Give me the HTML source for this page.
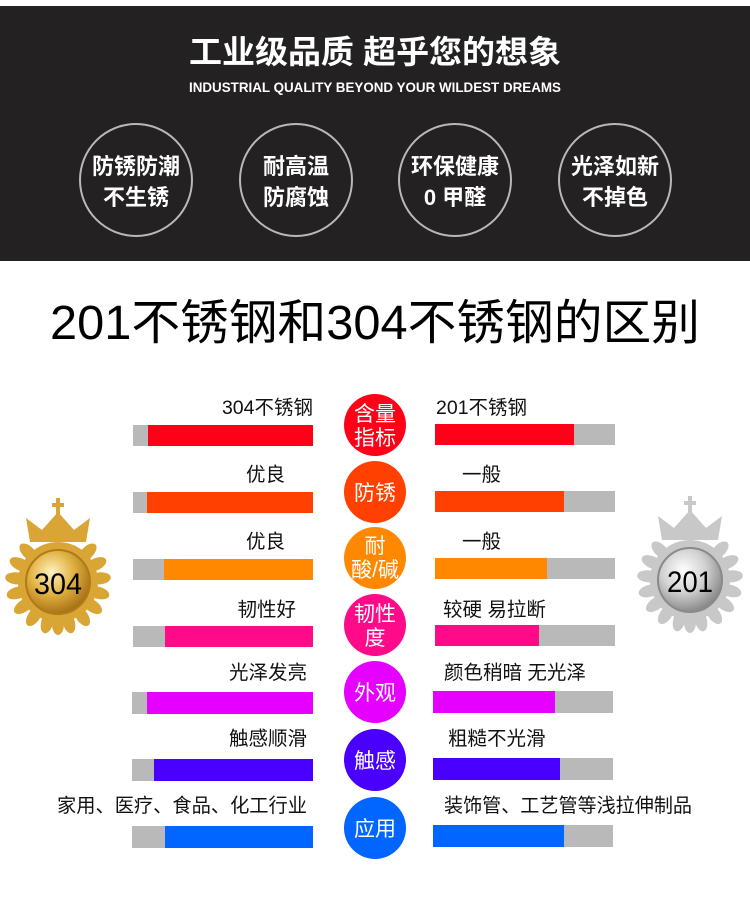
<!DOCTYPE html>
<html><head><meta charset="utf-8"><style>
html,body{margin:0;padding:0;background:#fff;}
svg{display:block;}
text{font-family:"Liberation Sans","Noto Sans CJK SC",sans-serif;}
</style></head><body>
<svg width="750" height="908" viewBox="0 0 750 908" xmlns="http://www.w3.org/2000/svg">
<defs>
<radialGradient id="gold" cx="40%" cy="35%" r="70%"><stop offset="0" stop-color="#fff3c0"/><stop offset="0.5" stop-color="#e0b040"/><stop offset="1" stop-color="#a06a10"/></radialGradient>
<radialGradient id="silver" cx="40%" cy="35%" r="70%"><stop offset="0" stop-color="#ffffff"/><stop offset="0.5" stop-color="#d0d0d0"/><stop offset="1" stop-color="#808080"/></radialGradient>
<g id="laurel">
 <g>
 <ellipse cx="0" cy="-42" rx="6" ry="11" transform="rotate(-45)"/><ellipse cx="0" cy="-42" rx="6" ry="11" transform="rotate(-65)"/><ellipse cx="0" cy="-42" rx="6" ry="11" transform="rotate(-85)"/><ellipse cx="0" cy="-42" rx="6" ry="11" transform="rotate(-105)"/><ellipse cx="0" cy="-42" rx="6" ry="11" transform="rotate(-125)"/><ellipse cx="0" cy="-42" rx="6" ry="11" transform="rotate(-145)"/><ellipse cx="0" cy="-42" rx="6" ry="11" transform="rotate(-165)"/>
 <ellipse cx="0" cy="-42" rx="6" ry="11" transform="rotate(45)"/><ellipse cx="0" cy="-42" rx="6" ry="11" transform="rotate(65)"/><ellipse cx="0" cy="-42" rx="6" ry="11" transform="rotate(85)"/><ellipse cx="0" cy="-42" rx="6" ry="11" transform="rotate(105)"/><ellipse cx="0" cy="-42" rx="6" ry="11" transform="rotate(125)"/><ellipse cx="0" cy="-42" rx="6" ry="11" transform="rotate(145)"/><ellipse cx="0" cy="-42" rx="6" ry="11" transform="rotate(165)"/><ellipse cx="0" cy="-42" rx="6" ry="11" transform="rotate(180)"/>
 </g>
 <circle r="40"/>
 <path d="M-28,-40 L-32,-64 L-16,-52 L0,-70 L16,-52 L32,-64 L28,-40 Z"/>
 <rect x="-2" y="-84" width="4" height="16"/><rect x="-6" y="-79" width="12" height="4"/>
</g>
</defs>
<rect x="0" y="6" width="750" height="255" fill="#232122"/>
<text x="375" y="63" text-anchor="middle" font-size="32" font-weight="bold" fill="#fff" textLength="372" lengthAdjust="spacingAndGlyphs">工业级品质 超乎您的想象</text>
<text x="375" y="92" text-anchor="middle" font-size="14" font-weight="bold" fill="#fff" textLength="372" lengthAdjust="spacingAndGlyphs">INDUSTRIAL QUALITY BEYOND YOUR WILDEST DREAMS</text>
<g fill="none" stroke="#b8b8b8" stroke-width="2">
<circle cx="136" cy="180" r="56"/><circle cx="296" cy="180" r="56"/><circle cx="455" cy="180" r="56"/><circle cx="615" cy="180" r="56"/>
</g>
<g font-size="22" font-weight="bold" fill="#fff" text-anchor="middle">
<text x="136" y="174">防锈防潮</text><text x="136" y="205">不生锈</text>
<text x="296" y="174">耐高温</text><text x="296" y="205">防腐蚀</text>
<text x="455" y="174">环保健康</text><text x="455" y="205">0 甲醛</text>
<text x="615" y="174">光泽如新</text><text x="615" y="205">不掉色</text>
</g>
<text x="375" y="339" text-anchor="middle" font-size="48" fill="#000" textLength="650" lengthAdjust="spacingAndGlyphs">201不锈钢和304不锈钢的区别</text>

<!-- medals -->
<g transform="translate(58,582)" fill="#d9a636"><use href="#laurel"/></g>
<circle cx="58" cy="582" r="32" fill="url(#gold)" stroke="#b07a18" stroke-width="2"/>
<text x="58" y="594" text-anchor="middle" font-size="30" fill="#000" textLength="48" lengthAdjust="spacingAndGlyphs">304</text>
<g transform="translate(690,580)" fill="#c8c8c8"><use href="#laurel"/></g>
<circle cx="690" cy="580" r="32" fill="url(#silver)" stroke="#8a8a8a" stroke-width="2"/>
<text x="690" y="592" text-anchor="middle" font-size="30" fill="#000" textLength="46" lengthAdjust="spacingAndGlyphs">201</text>

<!-- rows -->
<g fill="#b9b9b9">
<rect x="133" y="425" width="180" height="21"/><rect x="435" y="424" width="180" height="21"/>
<rect x="133" y="492" width="180" height="21"/><rect x="435" y="491" width="180" height="21"/>
<rect x="133" y="559" width="180" height="21"/><rect x="435" y="558" width="180" height="21"/>
<rect x="133" y="626" width="180" height="21"/><rect x="435" y="625" width="180" height="21"/>
<rect x="132" y="692" width="181" height="22"/><rect x="433" y="691" width="180" height="22"/>
<rect x="132" y="759" width="181" height="22"/><rect x="433" y="758" width="180" height="22"/>
<rect x="132" y="826" width="181" height="22"/><rect x="433" y="825" width="180" height="22"/>
</g>
<rect x="148" y="425" width="165" height="21" fill="#ff0018"/><rect x="435" y="424" width="139" height="21" fill="#ff0018"/>
<rect x="147" y="492" width="166" height="21" fill="#ff4000"/><rect x="435" y="491" width="129" height="21" fill="#ff4000"/>
<rect x="164" y="559" width="149" height="21" fill="#ff8800"/><rect x="435" y="558" width="112" height="21" fill="#ff8800"/>
<rect x="165" y="626" width="148" height="21" fill="#ff0a88"/><rect x="435" y="625" width="104" height="21" fill="#ff0a88"/>
<rect x="147" y="692" width="166" height="22" fill="#e600ff"/><rect x="433" y="691" width="122" height="22" fill="#e600ff"/>
<rect x="154" y="759" width="159" height="22" fill="#4a00ff"/><rect x="433" y="758" width="127" height="22" fill="#4a00ff"/>
<rect x="165" y="826" width="148" height="22" fill="#0066ff"/><rect x="433" y="825" width="131" height="22" fill="#0066ff"/>

<g font-size="19.5" fill="#111">
<g text-anchor="end">
<text x="313" y="414">304不锈钢</text>
<text x="285" y="481">优良</text>
<text x="285" y="548">优良</text>
<text x="296" y="616">韧性好</text>
<text x="307" y="679">光泽发亮</text>
<text x="307" y="745">触感顺滑</text>
<text x="307" y="812" textLength="250" lengthAdjust="spacingAndGlyphs">家用、医疗、食品、化工行业</text>
</g>
<text x="436" y="414">201不锈钢</text>
<text x="462" y="481">一般</text>
<text x="462" y="548">一般</text>
<text x="443" y="616">较硬 易拉断</text>
<text x="444" y="679">颜色稍暗 无光泽</text>
<text x="448" y="745">粗糙不光滑</text>
<text x="444" y="812" textLength="248" lengthAdjust="spacingAndGlyphs">装饰管、工艺管等浅拉伸制品</text>
</g>

<circle cx="375" cy="425" r="31" fill="#ff0018"/>
<circle cx="375" cy="492" r="31" fill="#ff4000"/>
<circle cx="375" cy="558" r="31" fill="#ff8800"/>
<circle cx="375" cy="625" r="31" fill="#ff0a88"/>
<circle cx="375" cy="692" r="31" fill="#e600ff"/>
<circle cx="375" cy="760" r="31" fill="#4a00ff"/>
<circle cx="375" cy="828" r="31" fill="#0066ff"/>
<g font-size="21" fill="#fff" text-anchor="middle">
<text x="375" y="421">含量</text><text x="375" y="445">指标</text>
<text x="375" y="500">防锈</text>
<text x="375" y="553">耐</text><text x="375" y="577">酸/碱</text>
<text x="375" y="621">韧性</text><text x="375" y="645">度</text>
<text x="375" y="700">外观</text>
<text x="375" y="768">触感</text>
<text x="375" y="836">应用</text>
</g>
</svg>
</body></html>
